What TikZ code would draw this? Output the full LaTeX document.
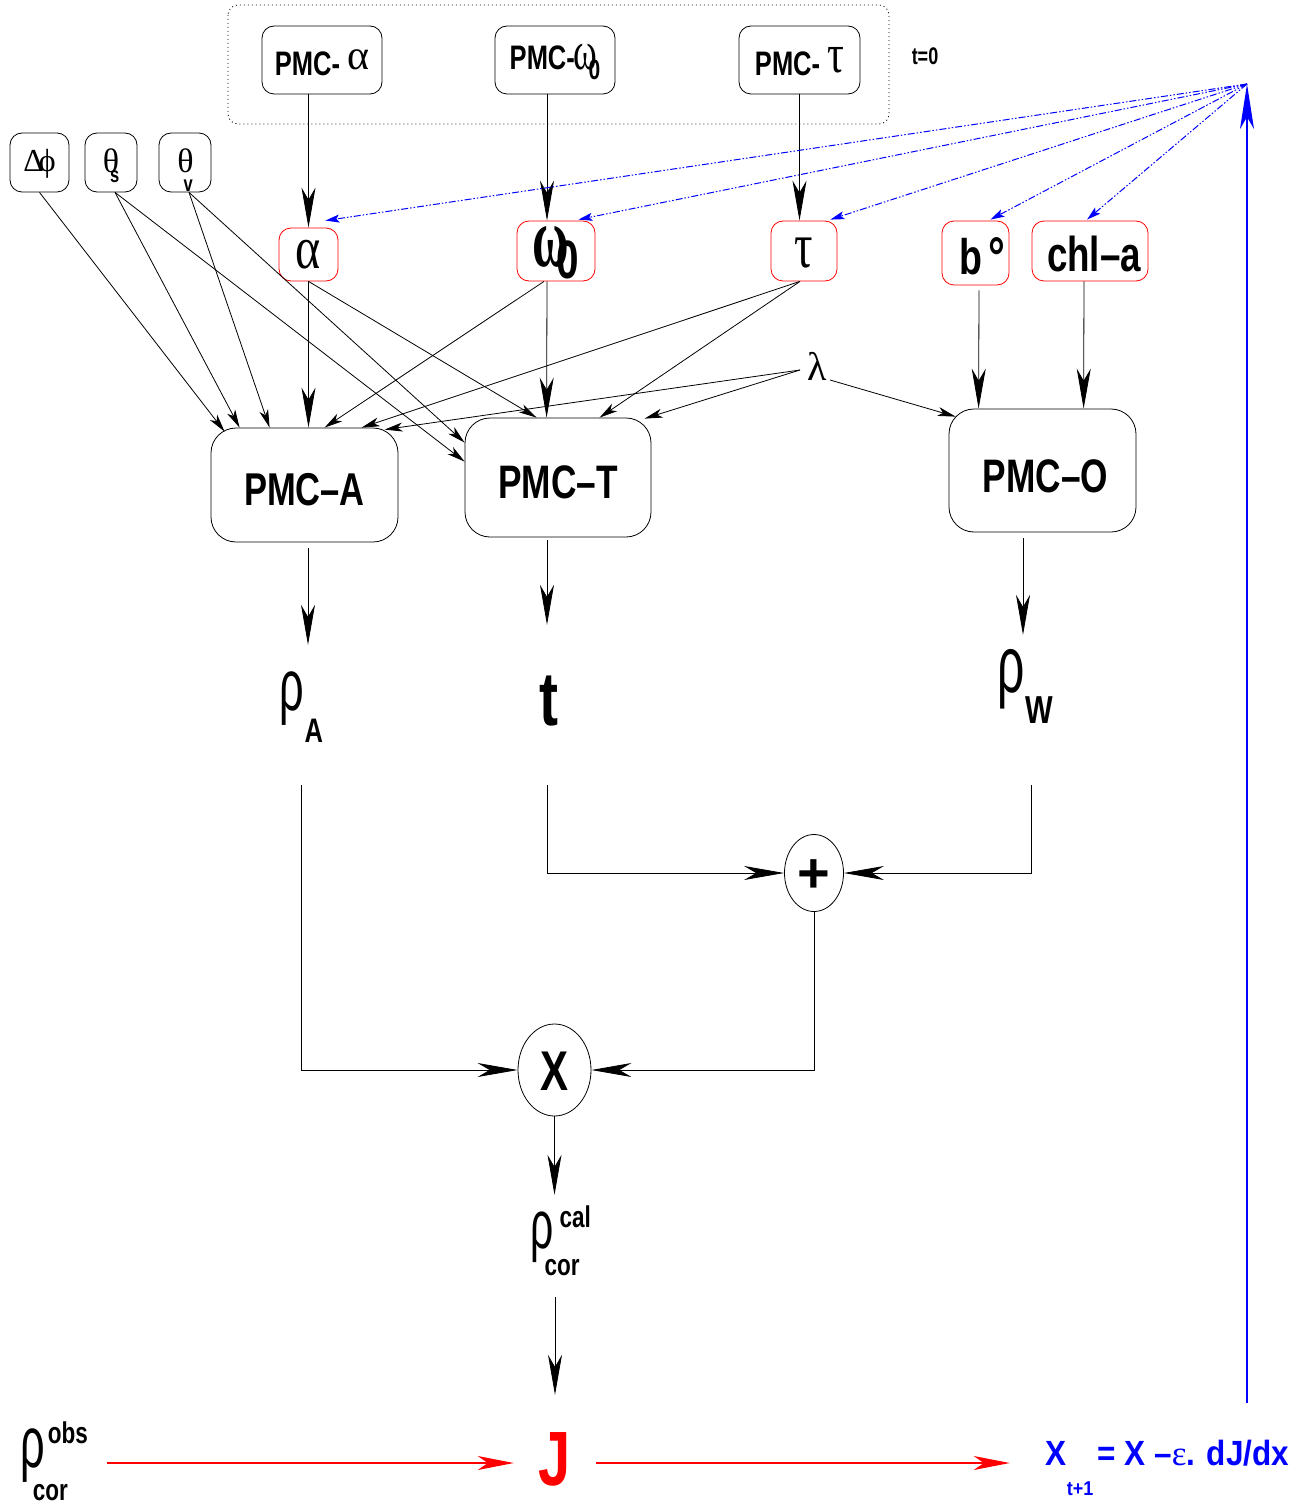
\documentclass[tikz,border=0pt]{standalone}
\usepackage{fontspec}
\setmainfont{Liberation Sans}
\newfontfamily\nsans{Liberation Sans}[FakeStretch=0.75]
\newfontfamily\msans{Liberation Sans}[FakeStretch=0.9]
\newfontfamily\grk{Liberation Serif}
\newfontfamily\sgrk{Liberation Sans}
\usetikzlibrary{arrows.meta,calc,shapes.geometric}
\newcommand\fsz[1]{\fontsize{#1}{#1}\selectfont}
\newcommand\bl[2]{\raisebox{#1}[0pt][0pt]{#2}}
\newcommand\rh[1]{\scalebox{0.6}[1]{\sgrk\mdseries\fsz{#1}ρ}}
\begin{document}
\begin{tikzpicture}[x=1pt,y=-1pt,
  every node/.style={inner sep=0pt, font=\nsans\bfseries},
  bx/.style={draw, line width=0.8pt, rounded corners=12pt},
  rbx/.style={bx, draw=red},
  ln/.style={line width=0.8pt},
  sa/.style={ln,-{Stealth[length=18pt,width=9pt,inset=5pt]}},
  ba/.style={ln,-{Stealth[length=40pt,width=14pt,inset=12pt]}},
  redar/.style={red,line width=1.6pt,-{Stealth[length=36pt,width=14pt,inset=10pt]}},
  bd/.style={blue,line width=1pt,dash pattern=on 7pt off 2pt on 1.5pt off 2pt on 1.5pt off 2pt,-{Stealth[length=14pt,width=8pt,inset=3pt]}},
]
\useasboundingbox (0,0) rectangle (1309,1506);
\fill[white] (0,0) rectangle (1309,1506);

% dotted group
\draw[ln, dash pattern=on 1pt off 3pt, rounded corners=10pt] (228,5) rectangle (889,124);

% top boxes
\node[bx, minimum width=120pt, minimum height=68pt] (Pa) at (322,60)
  {\bl{-16pt}{\fsz{34}PMC-\kern7pt\bl{6pt}{\grk\mdseries\fsz{42}α}}};
\node[bx, minimum width=120pt, minimum height=68pt] (Pw) at (555,60)
  {\bl{-10pt}{\fsz{34}PMC-\kern-1pt{\grk\mdseries\scalebox{1}[1.5]{\fsz{36}ω}}\kern-9pt\bl{-10pt}{\fsz{28}0}}};
\node[bx, minimum width=121pt, minimum height=68pt] (Pt) at (799.5,60)
  {\bl{-16pt}{\fsz{34}PMC-\kern7pt\bl{3pt}{\grk\mdseries\scalebox{1}[1.3]{\fsz{42}τ}}}};
\node (t0) at (925,57) {\bl{-8pt}{\fsz{24}t=0}};

% small input boxes
\node[bx, minimum width=59pt, minimum height=59pt] (dp) at (39.5,162.5)
  {\bl{-9.5pt}{\grk\mdseries\fsz{32}Δ\kern-5pt ϕ}};
\node[bx, minimum width=52pt, minimum height=59pt] (ts) at (111,162.5)
  {\bl{-10pt}{\grk\mdseries\fsz{34}θ}\kern-9pt\bl{-20.5pt}{\fsz{22}s}};
\node[bx, minimum width=52pt, minimum height=59pt] (tv) at (185,162.5)
  {\bl{-10pt}{\grk\mdseries\fsz{34}θ}\kern-10pt\bl{-29pt}{\fsz{22}v}};

% red parameter boxes
\node[rbx, minimum width=59pt, minimum height=53pt] (ra) at (308.5,254.5)
  {\bl{-13.5pt}{\grk\mdseries\scalebox{1}[1.25]{\fsz{48}α}}};
\node[rbx, minimum width=78pt, minimum height=60pt] (rw) at (556,251)
  {\bl{-16pt}{\grk\scalebox{1}[1.7]{\fsz{50}ω}}\kern-13pt\bl{-28pt}{\fsz{54}0}};
\node[rbx, minimum width=66pt, minimum height=60pt] (rt) at (804,251)
  {\bl{-17pt}{\grk\mdseries\scalebox{1}[1.4]{\fsz{46}τ}}};
\node[rbx, minimum width=67pt, minimum height=64pt] (rb) at (975.5,253)
  {\hspace{13pt}\bl{-21pt}{\fsz{50}b\kern6pt\bl{-2pt}{\fsz{56}°}}};
\node[rbx, minimum width=116pt, minimum height=60pt] (rch) at (1090,251)
  {\hspace{8pt}\bl{-21pt}{\fsz{49}chl–a}};

\node (lam) at (817,365) {\bl{-15pt}{\grk\mdseries\fsz{40}λ}};

% PMC models
\node[bx, rounded corners=25pt, minimum width=187pt, minimum height=114pt] (pA) at (304.5,485)
  {\bl{-20pt}{\fsz{46}PMC–A}};
\node[bx, rounded corners=25pt, minimum width=186pt, minimum height=119pt] (pT) at (558,477.5)
  {\bl{-21pt}{\fsz{47}PMC–T}};
\node[bx, rounded corners=25pt, minimum width=187pt, minimum height=123pt] (pO) at (1042.5,470.5)
  {\hspace{6pt}\bl{-21.5pt}{\fsz{47}PMC–O}};

% outputs
\node[minimum width=50pt, minimum height=140pt] (rA) at (301,715)
  {\bl{5pt}{\rh{72}}\kern1pt\bl{-27pt}{\fsz{34}A}};
\node[minimum width=30pt, minimum height=160pt] (tt) at (547,705)
  {\hspace{3pt}\bl{-20pt}{\fsz{76}t}};
\node[minimum width=56pt, minimum height=150pt] (rW) at (1025,710)
  {\bl{18pt}{\rh{80}}\kern1pt\bl{-13pt}{\fsz{39}W}};

\node[draw, ellipse, ln, minimum width=59pt, minimum height=77pt] (plus) at (814,873)
  {\bl{-19pt}{\rmfamily\bfseries\fsz{56}+}};
\node[draw, ellipse, ln, minimum width=73pt, minimum height=92pt] (mul) at (554.5,1070)
  {\bl{-20pt}{\fsz{56}X}};

\node[minimum width=60pt, minimum height=102pt] (rcal) at (555,1246)
  {\bl{-2pt}{\rh{68}}\kern6pt\rlap{\bl{19pt}{\fsz{30}cal}}\kern-15pt\bl{-29pt}{\fsz{30}cor}};
\node[minimum width=126pt] (ro) at (44,1463)
  {\bl{-4pt}{\rh{72}}\kern3pt\rlap{\bl{20pt}{\fsz{30}obs}}\kern-15pt\bl{-37pt}{\fsz{30}cor}};
\node[minimum width=82pt, minimum height=136pt, text=red] (J) at (555,1463)
  {\bl{-22pt}{\fsz{77}J}};
\node[minimum width=315pt, text=blue, font=\msans\bfseries] (fm) at (1167.5,1463)
  {\bl{-2pt}{\fsz{35}X\bl{-30pt}{\fsz{20}t+1}\kern4pt= X –{\grk\mdseries ε}. dJ/dx}};

% top vertical arrows
\draw[ba] (Pa.south -| ra.north) -- (ra.north);
\draw[ba] ([xshift=-8pt]Pw.south) -- ([xshift=-9pt]rw.north);
\draw[ba] (Pt.south) -- (Pt.south |- rt.north);

% blue feedback
\coordinate (bp) at (1247,84);
\coordinate (bs) at (1247,1403);
\draw[bd] (bp) -- ($(ra.north east)+(-13,-7)$);
\draw[bd] (bp) -- ($(rw.north east)+(-17,-1)$);
\draw[bd] (bp) -- ($(rt.north east)+(-7,-1)$);
\draw[bd] (bp) -- ($(rb.north east)+(-19,-1)$);
\draw[bd] (bp) -- ($(rch.north)+(-3,-1)$);
\draw[blue, line width=2pt, -{Stealth[length=45pt,width=14pt,inset=12pt]}] (bs) -- (bp);

% inputs to PMC-A
\draw[sa] (dp.south) -- ($(pA.north west)+(14,4)$);
\draw[sa] ([xshift=4pt]ts.south) -- ($(pA.north west)+(29,0)$);
\draw[sa] ([xshift=4pt]tv.south) -- ($(pA.north west)+(59,0)$);
\draw[ba] (ra.south) -- (ra.south |- pA.north);
\draw[sa] ([xshift=-12pt]rw.south) -- ($(pA.north west)+(114,0)$);
\draw[sa] ([xshift=-4pt]rt.south) -- ($(pA.north west)+(151,0)$);
\draw[sa] ($(lam.center)+(-17,5)$) -- ($(pA.north west)+(174,2)$);

% inputs to PMC-T
\draw[sa] ([xshift=4pt]ts.south) -- ($(pT.north west)+(0,44)$);
\draw[sa] ([xshift=4pt]tv.south) -- ($(pT.north west)+(0,25)$);
\draw[sa] (ra.south) -- ($(pT.north west)+(72,0)$);
\draw[ba] ([xshift=-9pt]rw.south) -- ($(pT.north west)+(82,0)$);
\draw[sa] ([xshift=-4pt]rt.south) -- ($(pT.north west)+(135,0)$);
\draw[sa] ($(lam.center)+(-17,5)$) -- ($(pT.north west)+(180,1)$);

% inputs to PMC-O
\draw[sa] ($(lam.center)+(13,15)$) -- ($(pO.north west)+(7,8)$);
\draw[ba] ($(rb.south)+(3.5,5)$) -- ($(pO.north west)+(30,0)$);
\draw[ba] ($(rch.south)+(-6,0)$) -- ($(pO.north west)+(135,0)$);

% model outputs
\draw[ba] ($(pA.south)+(3.5,6)$) -- ([xshift=7pt]rA.north);
\draw[ba] ($(pT.south)+(-11,3)$) -- (tt.north);
\draw[ba] ($(pO.south)+(-19.5,6)$) -- ([xshift=-2pt]rW.north);

% combination
\draw[ba] (tt.south) |- (plus.west);
\draw[ba] ([xshift=6pt]rW.south) |- (plus.east);
\draw[ba] (plus.south) |- (mul.east);
\draw[ba] (rA.south) |- (mul.west);
\draw[ba] (mul.south) -- (mul.south |- rcal.north);
\draw[ba] (rcal.south) -- (J.north);

% cost
\draw[redar] (ro.east) -- (J.west);
\draw[redar] (J.east) -- (fm.west);
\end{tikzpicture}
\end{document}
